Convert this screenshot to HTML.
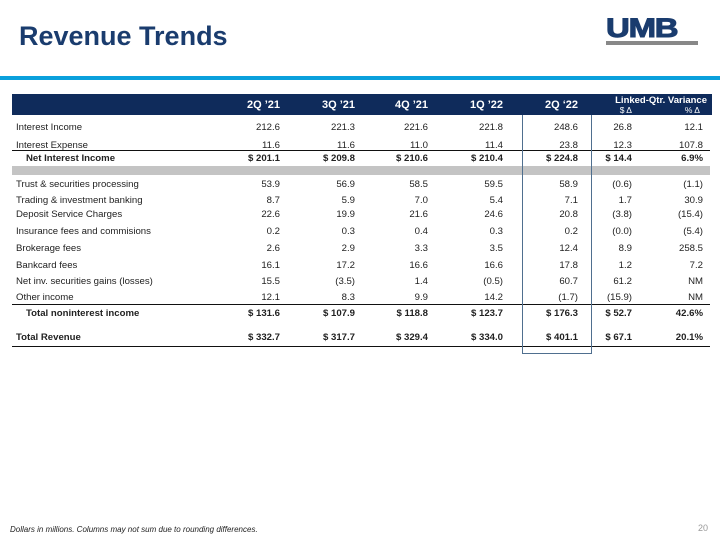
<!DOCTYPE html>
<html><head><meta charset="utf-8"><style>
body{margin:0;width:720px;height:540px;position:relative;background:#fff;font-family:"Liberation Sans",Arial,sans-serif;overflow:hidden}
.a{position:absolute;white-space:nowrap}
.t{font-size:9.6px;color:#222}
.b{font-weight:bold}
</style></head><body>
<div class="a b" style="left:19px;top:21px;font-size:27px;color:#1a3c6e">Revenue Trends</div>
<div class="a" style="left:606px;top:20px;width:94px;">
 <div class="a b" style="left:0;top:-7px;font-size:27px;color:#1a3c6e;letter-spacing:-1px;transform:scaleX(1.22);transform-origin:left;-webkit-text-stroke:1px #1a3c6e">UMB</div>
 <div class="a" style="left:0;top:21px;width:92px;height:4px;background:#888"></div>
</div>
<div class="a" style="left:0;top:76px;width:720px;height:4px;background:#0aa0dc"></div>
<div class="a" style="left:12px;top:94px;width:700px;height:21px;background:#0f2b5b"></div>
<div class="a" style="left:12px;top:166px;width:698px;height:9px;background:#c4c4c4"></div>
<div class="a" style="left:12px;top:150px;width:698px;height:1px;background:#111"></div>
<div class="a" style="left:12px;top:304px;width:698px;height:1px;background:#111"></div>
<div class="a" style="left:12px;top:346px;width:698px;height:1px;background:#111"></div>
<div class="a" style="left:522px;top:115px;width:68px;height:238px;border:1px solid #4f6f8f;border-top:none"></div>
<div id="tbl"></div>
<div class="a" style="left:10px;top:525px;font-size:8px;font-style:italic;color:#222">Dollars in millions. Columns may not sum due to rounding differences.</div>
<div class="a" style="left:698px;top:523px;font-size:9px;color:#999">20</div>
<script>
const headers=["2Q ’21","3Q ’21","4Q ’21","1Q ’22","2Q ‘22"];
const rows=[
["Interest Income",127,0,0,["212.6","221.3","221.6","221.8","248.6","26.8","12.1"]],
["Interest Expense",145,0,0,["11.6","11.6","11.0","11.4","23.8","12.3","107.8"]],
["Net Interest Income",158,1,1,["$ 201.1","$ 209.8","$ 210.6","$ 210.4","$ 224.8","$ 14.4","6.9%"]],
["Trust & securities processing",184,0,0,["53.9","56.9","58.5","59.5","58.9","(0.6)","(1.1)"]],
["Trading & investment banking",200,0,0,["8.7","5.9","7.0","5.4","7.1","1.7","30.9"]],
["Deposit Service Charges",214,0,0,["22.6","19.9","21.6","24.6","20.8","(3.8)","(15.4)"]],
["Insurance fees and commisions",231,0,0,["0.2","0.3","0.4","0.3","0.2","(0.0)","(5.4)"]],
["Brokerage fees",248,0,0,["2.6","2.9","3.3","3.5","12.4","8.9","258.5"]],
["Bankcard fees",265,0,0,["16.1","17.2","16.6","16.6","17.8","1.2","7.2"]],
["Net inv. securities gains (losses)",281,0,0,["15.5","(3.5)","1.4","(0.5)","60.7","61.2","NM"]],
["Other income",297,0,0,["12.1","8.3","9.9","14.2","(1.7)","(15.9)","NM"]],
["Total noninterest income",313,1,1,["$ 131.6","$ 107.9","$ 118.8","$ 123.7","$ 176.3","$ 52.7","42.6%"]],
["Total Revenue",337,1,0,["$ 332.7","$ 317.7","$ 329.4","$ 334.0","$ 401.1","$ 67.1","20.1%"]]
];
const colR=[280,355,428,503,578,632,703];
const t=document.getElementById('tbl');
function add(txt,x,y,cls,right,col,fs){const d=document.createElement('div');d.className='a t '+cls;d.textContent=txt;


if(right){d.style.right=(720-x)+'px';}else d.style.left=x+'px';d.style.top=(y-5)+'px';if(col)d.style.color=col;if(fs)d.style.fontSize=fs;t.appendChild(d);return d;}
headers.forEach((h,i)=>add(h,colR[i],104,'b',1,'#fff','11px'));
add('Linked-Qtr. Variance',707,100,'b',0,'#fff','9.5px').style.left='';
t.lastChild.style.right='13px';
add('$ Δ',632,110,'',1,'#fff','8.5px');add('% Δ',700,110,'',1,'#fff','8.5px');
rows.forEach(r=>{add(r[0],r[3]?26:16,r[1],r[2]?'b':'',0);r[4].forEach((v,i)=>add(v,colR[i],r[1],r[2]?'b':'',1));});
</script>
</body></html>
